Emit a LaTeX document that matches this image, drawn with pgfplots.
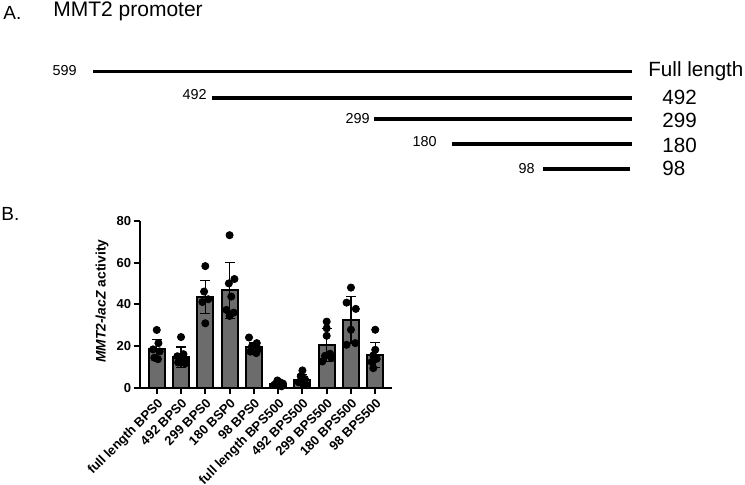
\documentclass[border=0pt]{standalone}
\usepackage{fontspec}
\setmainfont{Liberation Sans}
\usepackage{pgfplots}
\pgfplotsset{compat=1.18}
\usepackage{pgfplotstable}

\definecolor{barfill}{RGB}{108,108,108}
\tikzset{
    small/.style={font=\fontsize{7.2}{8}\selectfont, inner sep=0pt, anchor=east},
    big/.style={font=\fontsize{10.3}{12}\selectfont, inner sep=0pt, anchor=west},
    seg/.style={black, line width=1.75pt, no marks},
}

% panel B: mean and SD per construct
\pgfplotstableread{
x y e
0 18.8 4.6
1 14.8 4.8
2 43.6 8.0
3 46.8 13.5
4 19.4 2.2
5 2.0 1.0
6 4.0 2.3
7 20.5 8.0
8 32.6 11.2
9 15.8 6.0
}\meantable

% panel B: individual replicates
\pgfplotstableread{
x y
0.00 27.8
0.07 21.5
-0.15 18.5
0.12 17.5
-0.10 14.5
0.05 13.8
1.00 24.4
1.10 16.2
0.85 15.2
1.15 13.8
0.95 13.0
1.05 12.5
0.88 12.2
1.18 11.8
2.00 58.4
1.95 46.2
2.12 42.5
1.88 41.2
2.00 31.0
3.00 73.2
3.20 52.2
2.97 50.1
3.07 43.8
2.87 37.4
3.17 36.1
3.00 34.5
3.80 24.2
4.12 21.5
3.92 19.9
4.20 18.6
3.86 17.4
4.10 16.7
4.97 3.6
5.08 2.7
5.20 2.1
4.85 1.6
5.02 1.2
5.14 0.8
6.00 8.4
5.93 5.6
6.10 4.3
5.85 2.7
6.03 1.9
6.17 1.4
7.00 31.8
7.00 28.6
7.00 25.0
7.14 16.4
6.93 15.4
7.20 14.3
6.82 12.7
8.00 48.1
7.82 40.9
8.20 37.9
8.00 27.9
7.82 20.7
8.18 21.5
9.00 27.9
9.00 18.3
8.92 15.6
9.06 14.0
8.85 12.5
8.92 9.5
}\dottable

\begin{document}
\begin{tikzpicture}
% panel A: promoter fragments (page in pixel units, y downwards)
\begin{axis}[
    scale only axis, width=372.5pt, height=242.5pt,
    xmin=0, xmax=745, ymin=0, ymax=485, y dir=reverse,
    hide axis, clip=false,
]
\addplot[seg] coordinates {(93,71.5) (632,71.5)};
\addplot[seg] coordinates {(212,98) (632,98)};
\addplot[seg] coordinates {(374,119) (632,119)};
\addplot[seg] coordinates {(452,144) (632,144)};
\addplot[seg] coordinates {(543,169) (630,169)};

\node[font=\fontsize{9.5}{11}\selectfont, anchor=base west, inner sep=0pt] at (axis cs:3,20) {A.};
\node[font=\fontsize{10.5}{12}\selectfont, anchor=base west, inner sep=0pt] at (axis cs:53,17) {MMT2 promoter};
\node[font=\fontsize{9.5}{11}\selectfont, anchor=base west, inner sep=0pt] at (axis cs:1,221) {B.};

\node[small] at (axis cs:77,71) {599};
\node[small] at (axis cs:207,95) {492};
\node[small] at (axis cs:370,119) {299};
\node[small] at (axis cs:437,142) {180};
\node[small] at (axis cs:535,169) {98};

\node[big] at (axis cs:648,71.5) {Full length};
\node[big] at (axis cs:662,98) {492};
\node[big] at (axis cs:662,120) {299};
\node[big] at (axis cs:662,145) {180};
\node[big] at (axis cs:662,168) {98};
\end{axis}

% panel B: bar chart
\begin{axis}[
    at={(70pt,48.5pt)}, anchor=south west,
    scale only axis, width=126pt, height=83.5pt,
    xmin=-0.69, xmax=9.69, ymin=0, ymax=80,
    axis x line*=bottom, axis y line*=left,
    axis line style={line width=1pt, black},
    tick align=outside, major tick length=3.2pt,
    major tick style={line width=1pt, black},
    ytick={0,20,40,60,80},
    xtick={0,...,9},
    xticklabels={full length BPS0, 492 BPS0, 299 BPS0, 180 BSP0, 98 BPS0,
        full length BPS500, 492 BPS500, 299 BPS500, 180 BPS500, 98 BPS500},
    /pgf/number format/assume math mode=true,
    yticklabel style={font=\bfseries\fontsize{6.5}{7}\selectfont, inner sep=1pt},
    xticklabel style={font=\bfseries\fontsize{6.5}{7}\selectfont, rotate=45,
        anchor=north east, inner sep=1pt},
    ylabel={\textit{MMT2-lacZ} activity},
    ylabel style={font=\bfseries\fontsize{6.9}{8}\selectfont,
        at={(axis description cs:-0.151,0.52)}, anchor=center},
    clip=false,
]
\addplot[ybar, bar width=0.66, fill=barfill, draw=black, line width=1pt,
    error bars/.cd, y dir=both, y explicit,
    error bar style={line width=0.6pt, black},
    error mark options={rotate=90, mark size=2.5pt, line width=0.6pt, black}]
    table[x=x, y=y, y error=e] {\meantable};
\addplot[only marks, mark=*, mark size=1.8pt, black] table[x=x, y=y] {\dottable};
\end{axis}

\pgfresetboundingbox
\path (0,0) rectangle (372.5pt,242.5pt);
\end{tikzpicture}
\end{document}
